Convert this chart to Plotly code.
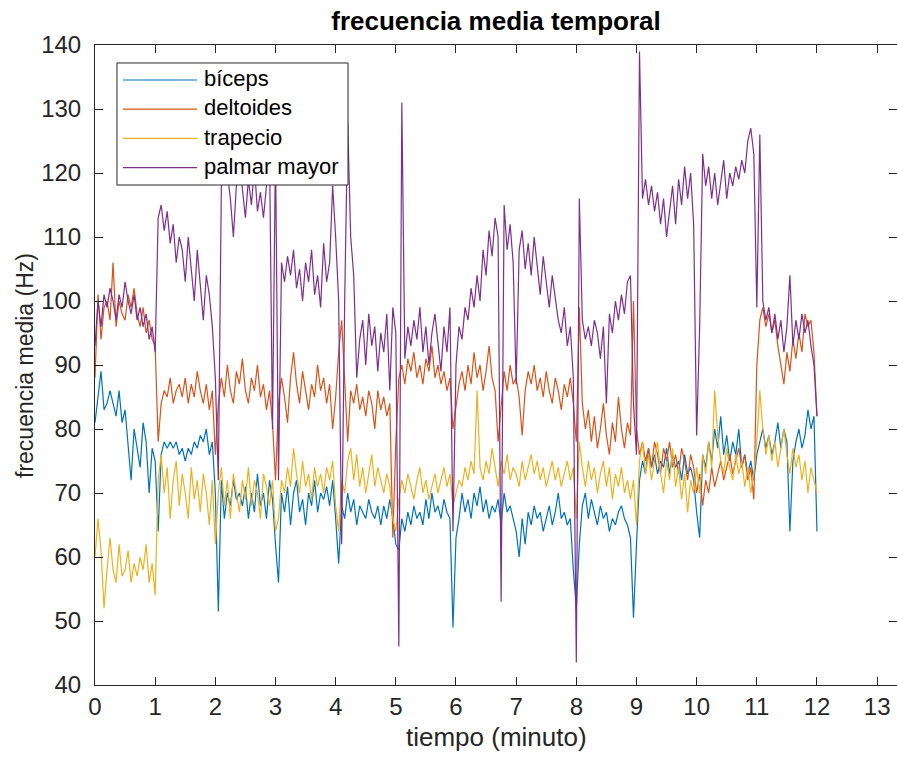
import numpy as np
import plotly.graph_objects as go

# sampling instants (minutes), one sample every 3 s
tiempo = np.round(np.linspace(0, 12, 241), 2)

biceps = [
    81, 85, 89, 83, 84, 86, 84, 82, 86, 81, 83, 77, 72, 80, 77, 74, 81, 78, 70, 77,
    75, 64, 76, 78, 77, 78, 77, 78, 76, 77, 75, 77, 76, 78, 77, 79, 78, 80, 76, 78,
    70, 51.5, 72, 66, 70, 68, 72, 69, 70, 68, 71, 66, 70, 67, 73, 68, 70, 66, 72, 69,
    62, 56, 70, 67, 71, 65, 70, 72, 67, 69, 65, 70, 68, 72, 67, 70, 69, 71, 68, 72,
    66, 59, 68, 66, 70, 67, 69, 65, 68, 67, 66, 69, 67, 66, 68, 65, 68, 66, 69, 66,
    62, 61, 66, 64, 67, 65, 68, 66, 67, 65, 69, 66, 70, 67, 68, 66, 69, 67, 66, 49,
    63, 66, 70, 67, 69, 66, 70, 68, 71, 67, 69, 66, 68, 67, 69, 65, 70, 67, 68, 66,
    64, 60, 66, 62, 67, 65, 68, 66, 67, 64, 66, 68, 65, 67, 70, 66, 67, 65, 66, 58,
    52, 62, 68, 70, 66, 69, 67, 65, 68, 66, 67, 64, 66, 65, 67, 68, 66, 65, 63, 50.5,
    62, 72, 75, 73, 77, 74, 76, 73, 75, 74, 77, 73, 76, 74, 75, 72, 76, 73, 74, 72,
    67, 63, 76, 74, 78, 75, 80, 77, 82, 76, 79, 75, 78, 76, 80, 74, 76, 73, 75, 72,
    76, 78, 80, 77, 79, 76, 78, 81, 77, 80, 78, 64, 75, 78, 80, 77, 79, 83, 80, 82,
    64,
]

deltoides = [
    88, 101, 94, 99, 100, 97, 106, 96, 100, 98, 97, 101, 99, 102, 98, 96, 99, 95, 97, 94,
    93, 78, 84, 86, 85, 88, 84, 86, 87, 85, 88, 84, 87, 85, 89, 86, 84, 87, 83, 86,
    76, 84, 88, 85, 90, 86, 84, 89, 87, 91, 86, 84, 88, 86, 90, 85, 87, 83, 86, 81,
    72, 84, 88, 85, 81, 88, 92, 87, 84, 89, 86, 83, 87, 85, 90, 86, 88, 84, 87, 80,
    85, 92, 97, 88, 78, 86, 84, 87, 83, 85, 82, 86, 84, 80, 86, 83, 85, 82, 84, 63,
    78, 88, 90, 87, 91, 89, 92, 88, 90, 87, 91, 89, 93, 88, 90, 87, 89, 86, 88, 80,
    84, 87, 89, 86, 90, 87, 92, 88, 90, 86, 89, 93, 88, 86, 78, 84, 89, 86, 90, 87,
    88, 85, 79, 86, 89, 87, 90, 86, 88, 85, 89, 86, 84, 88, 86, 83, 87, 85, 88, 84,
    78, 99, 84, 80, 83, 78, 82, 77, 80, 84, 79, 76, 81, 78, 85, 80, 77, 81, 79, 100,
    80, 76, 78, 75, 77, 74, 78, 76, 73, 77, 75, 78, 74, 76, 73, 77, 75, 72, 76, 74,
    70, 73, 68, 72, 70, 74, 71, 73, 75, 72, 74, 76, 73, 75, 77, 74, 76, 72, 74, 69,
    90, 97, 99, 96, 98, 95, 97, 93, 90, 87, 92, 89, 94, 91, 95, 92, 98, 96, 97, 92,
    82,
]

trapecio = [
    60, 66, 61, 52, 58, 63, 58, 56, 62, 57, 58, 61, 56, 59, 57, 60, 58, 62, 56, 59,
    54, 72, 76, 70, 74, 66, 72, 75, 68, 73, 70, 66, 74, 69, 72, 67, 73, 70, 65, 72,
    62, 70, 74, 68, 72, 66, 73, 70, 67, 72, 69, 74, 68, 72, 70, 66, 73, 71, 68, 72,
    64, 66, 72, 70, 74, 71, 77, 73, 70, 75, 71, 73, 69, 74, 71, 73, 70, 74, 72, 75,
    68, 64, 72, 70, 75, 77, 72, 76, 71, 74, 70, 73, 76, 71, 74, 72, 70, 73, 71, 66,
    64, 69, 72, 70, 73, 71, 69, 72, 74, 70, 72, 69, 71, 73, 70, 72, 74, 71, 73, 68,
    70, 72, 71, 74, 72, 75, 73, 86, 74, 72, 75, 73, 77, 74, 71, 75, 73, 76, 72, 74,
    73, 71, 75, 72, 74, 76, 73, 75, 72, 74, 71, 73, 75, 72, 74, 71, 73, 75, 72, 74,
    66, 78, 74, 71, 75, 72, 74, 70, 73, 75, 71, 74, 69, 73, 71, 74, 70, 72, 69, 72,
    65, 75, 78, 73, 76, 72, 75, 78, 73, 70, 75, 72, 77, 71, 74, 69, 73, 67, 72, 70,
    74, 70, 76, 73, 78, 74, 86, 79, 75, 73, 77, 74, 72, 76, 73, 75, 71, 74, 70, 73,
    78, 86, 80, 76, 79, 75, 78, 74, 77, 80, 76, 73, 77, 74, 76, 72, 75, 70, 74, 72,
    70,
]

palmar_mayor = [
    93, 100, 96, 101, 99, 102, 100, 97, 101, 99, 103, 100, 98, 101, 97, 99, 96, 98, 94, 96,
    92, 113, 115, 111, 114, 109, 112, 106, 110, 108, 103, 110, 105, 100, 108, 103, 97, 104, 101, 96,
    88, 72, 118, 124, 120, 116, 110, 118, 122, 117, 113, 119, 115, 121, 114, 117, 113, 118, 124, 80,
    124, 72, 106, 103, 107, 104, 108, 102, 105, 100, 106, 103, 108, 101, 104, 99, 109, 103, 106, 118,
    110, 100, 62, 100, 128, 110, 104, 88, 94, 97, 90, 98, 93, 96, 89, 95, 92, 98, 86, 99,
    95, 46, 131, 91, 96, 93, 97, 94, 99, 92, 96, 90, 95, 98, 93, 89, 96, 92, 99, 64,
    90, 96, 94, 99, 97, 102, 99, 104, 100, 108, 104, 111, 107, 113, 110, 53, 115, 108, 112, 106,
    87, 108, 111, 105, 109, 104, 110, 106, 101, 107, 103, 99, 104, 100, 97, 95, 99, 93, 96, 88,
    43.5, 116, 97, 94, 96, 93, 97, 95, 91, 96, 84, 98, 95, 100, 97, 101, 98, 103, 104, 84,
    76, 139, 116, 119, 115, 118, 114, 117, 112, 116, 110, 114, 118, 112, 119, 115, 121, 116, 120, 112,
    79, 96, 123, 118, 121, 116, 120, 115, 119, 122, 116, 120, 118, 121, 119, 122, 120, 125, 127, 123,
    99, 126, 100, 97, 99, 95, 98, 94, 97, 92, 96, 104, 93, 97, 94, 98, 95, 97, 93, 90,
    82,
]

series = [
    ("bíceps", biceps, "#0072BD"),
    ("deltoides", deltoides, "#D95319"),
    ("trapecio", trapecio, "#EDB120"),
    ("palmar mayor", palmar_mayor, "#7E2F8E"),
]

FONT = "Liberation Sans, Arial, Helvetica, sans-serif"
axis_color = "#262626"

fig = go.Figure()
for name, values, color in series:
    fig.add_trace(go.Scatter(
        x=tiempo, y=values, mode="lines", name=name, showlegend=False,
        line=dict(color=color, width=1.2),
    ))

# boxed legend in the upper-left corner, with long line samples
box = dict(x0=0.0274, x1=0.3155, y0=0.78125, y1=0.9719)
shapes = [dict(type="rect", xref="paper", yref="paper", layer="above",
               fillcolor="white", line=dict(color=axis_color, width=1), **box)]
annotations = []
row_top, row_step = 0.9453, 0.0456
for i, (name, _, color) in enumerate(series):
    yy = row_top - i * row_step
    shapes.append(dict(type="line", xref="paper", yref="paper", layer="above",
                       x0=0.0349, x1=0.1272, y0=yy, y1=yy,
                       line=dict(color=color, width=1.2)))
    annotations.append(dict(text=name, xref="paper", yref="paper",
                            x=0.1337, y=yy + 0.002, xanchor="left", yanchor="middle",
                            showarrow=False, font=dict(family=FONT, size=22, color="black")))

# axis titles
annotations.append(dict(text="tiempo (minuto)", xref="paper", yref="paper",
                        x=0.5, y=-0.081, xanchor="center", yanchor="middle",
                        showarrow=False, font=dict(family=FONT, size=26, color=axis_color)))
annotations.append(dict(text="frecuencia media (Hz)", xref="paper", yref="paper",
                        x=-0.0873, y=0.5, xanchor="center", yanchor="middle", textangle=-90,
                        showarrow=False, font=dict(family=FONT, size=23, color=axis_color)))

common_axis = dict(
    showline=True, linecolor=axis_color, linewidth=1, mirror="ticks",
    ticks="inside", ticklen=8, tickcolor=axis_color, tickwidth=1,
    showgrid=False, zeroline=False,
    tickfont=dict(family=FONT, size=24, color=axis_color),
)

fig.update_layout(
    width=897, height=758,
    margin=dict(l=95, r=0, t=45, b=73),
    paper_bgcolor="white", plot_bgcolor="white",
    font=dict(family=FONT, color=axis_color),
    title=dict(
        text="<b>frecuencia media temporal</b>",
        x=0.5, xanchor="center", xref="paper",
        y=0.972, yanchor="middle",
        font=dict(family=FONT, size=26, color="black"),
    ),
    xaxis=dict(
        range=[0, 13.33], tickmode="array", tickvals=list(range(0, 14)),
        ticklabelstandoff=0,
        **common_axis,
    ),
    yaxis=dict(
        range=[40, 140], tickmode="array", tickvals=list(range(40, 141, 10)),
        ticklabelstandoff=8,
        **common_axis,
    ),
    shapes=shapes,
    annotations=annotations,
    showlegend=False,
)

fig.write_html("out.html")
